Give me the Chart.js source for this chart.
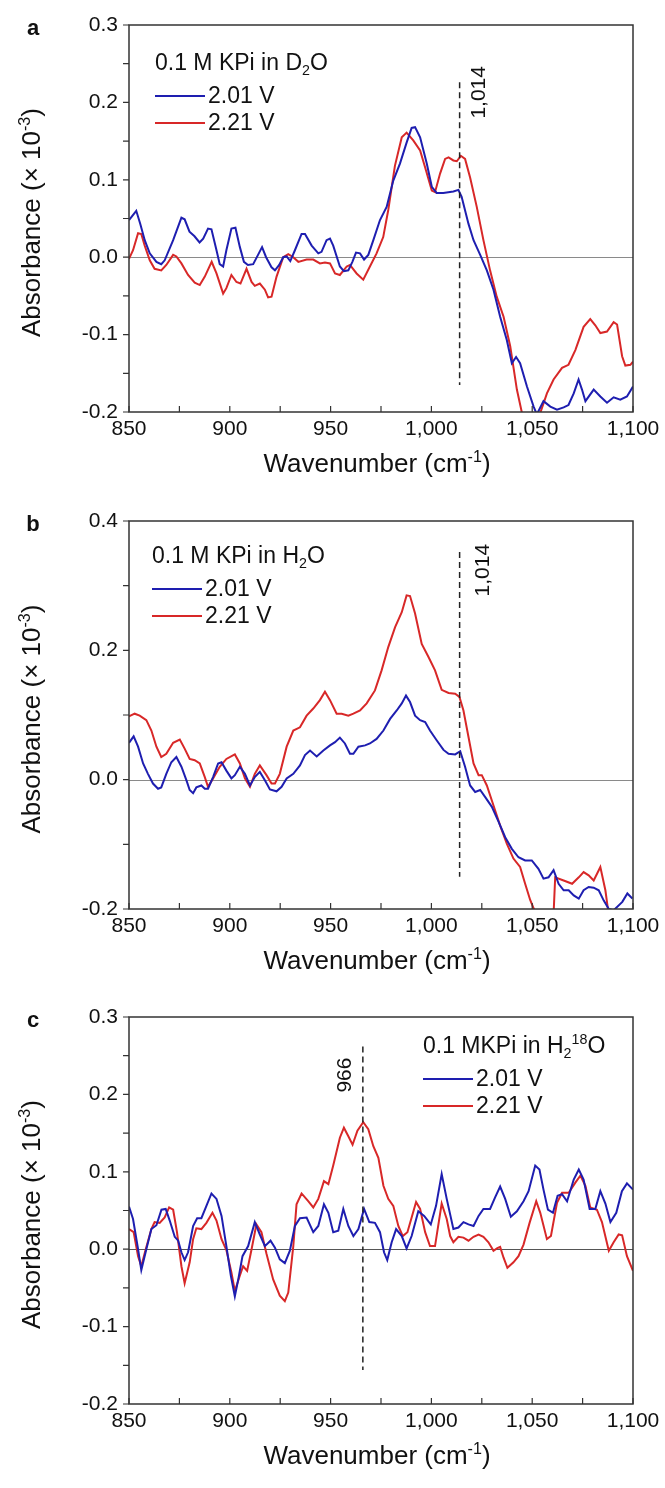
<!DOCTYPE html>
<html lang="en">
<head>
<meta charset="UTF-8">
<title>Absorbance spectra</title>
<script src="https://cdn.jsdelivr.net/npm/chart.js"></script>
<style>
    body { margin: 0; background: #fff; }
    .panel { position: absolute; left: 0; width: 665px; height: 496px; }
</style>
</head>
<body>
<div class="panel" style="top:0"><canvas id="chartA" width="665" height="496"></canvas></div>
<div class="panel" style="top:496px"><canvas id="chartB" width="665" height="496"></canvas></div>
<div class="panel" style="top:992px"><canvas id="chartC" width="665" height="496"></canvas></div>
<script>
// wavenumber (cm-1), absorbance (x 10^-3)
const aBlue = [[850,0.048],[853.6,0.060],[855.6,0.043],[857.8,0.022],[860.3,0.005],[863.6,-0.006],[866,-0.009],[867.7,-0.004],[871.9,0.022],[876,0.051],[877.6,0.049],[880,0.033],[882.5,0.027],[885,0.019],[886.8,0.024],[889.2,0.037],[890.9,0.036],[893.4,0.009],[895,-0.009],[896.7,-0.012],[898.3,0.009],[900.8,0.037],[902.8,0.038],[905,0.013],[907,-0.006],[909,-0.010],[911.6,-0.009],[914,0.003],[916,0.013],[918,0.000],[920.7,-0.013],[922.4,-0.017],[924.5,-0.010],[926.5,0.000],[928.2,0.001],[930,-0.005],[932.3,0.009],[935.6,0.030],[937.3,0.030],[940.6,0.015],[943.9,0.005],[945.5,0.007],[948,0.022],[949.7,0.024],[951.3,0.015],[954.6,-0.012],[956.6,-0.018],[958.8,-0.017],[960.8,-0.006],[962.6,0.006],[964.6,0.005],[966.6,-0.003],[968.7,0.003],[971.2,0.022],[974.5,0.048],[977.8,0.065],[981.1,0.099],[984.4,0.121],[987.7,0.148],[990.2,0.167],[991.9,0.168],[994.4,0.155],[997.7,0.121],[1000.2,0.091],[1002.6,0.083],[1005.9,0.083],[1010.9,0.085],[1013.4,0.087],[1015,0.078],[1018.4,0.043],[1020.9,0.022],[1024.2,0.003],[1027.5,-0.017],[1030.8,-0.042],[1034.1,-0.077],[1037.4,-0.107],[1039.9,-0.137],[1042,-0.129],[1044,-0.137],[1047.4,-0.167],[1050.7,-0.193],[1052.3,-0.203],[1055.6,-0.186],[1059,-0.193],[1062.3,-0.197],[1065.6,-0.194],[1068,-0.191],[1070.6,-0.176],[1073,-0.158],[1074.7,-0.171],[1076.4,-0.186],[1080.5,-0.171],[1083.8,-0.180],[1087.1,-0.188],[1090.4,-0.181],[1093.7,-0.184],[1097,-0.180],[1100,-0.167]];
const aRed = [[850,-0.002],[852,0.009],[854.5,0.031],[856.1,0.030],[857.8,0.015],[860.3,-0.004],[862.7,-0.015],[866,-0.017],[868.5,-0.010],[871.9,0.003],[873.5,0.001],[876,-0.008],[879.3,-0.023],[882.6,-0.033],[885.1,-0.036],[887.6,-0.025],[891,-0.006],[893.4,-0.021],[896.7,-0.047],[898.3,-0.040],[900.8,-0.023],[903.3,-0.032],[905.3,-0.034],[908.3,-0.015],[910.8,-0.032],[912.4,-0.037],[914.9,-0.034],[917.4,-0.042],[919,-0.052],[920.7,-0.051],[923.2,-0.025],[926.5,0.000],[929,0.004],[931.5,0.000],[934,-0.006],[938.1,-0.003],[941.4,-0.003],[944.7,-0.008],[947.2,-0.007],[949.7,-0.008],[952.2,-0.021],[954.6,-0.023],[958,-0.012],[959.6,-0.010],[962.9,-0.021],[966.2,-0.029],[969.5,-0.012],[972.8,0.005],[976.1,0.026],[978.6,0.061],[981.9,0.118],[985.3,0.155],[987.7,0.161],[991,0.151],[994.4,0.138],[996.9,0.116],[1000.2,0.086],[1001.8,0.084],[1004.3,0.108],[1006.8,0.127],[1008.5,0.129],[1010.9,0.125],[1012.6,0.124],[1014.6,0.131],[1016.7,0.127],[1019.2,0.103],[1022.5,0.065],[1025.8,0.022],[1029.1,-0.017],[1032.4,-0.051],[1035.8,-0.077],[1039.1,-0.115],[1042.4,-0.171],[1044.9,-0.201],[1047.5,-0.220],[1050.5,-0.228],[1052.5,-0.215],[1054.3,-0.199],[1057.3,-0.176],[1060.6,-0.158],[1064.8,-0.143],[1068,-0.139],[1071.4,-0.120],[1075.5,-0.090],[1078.8,-0.080],[1081.3,-0.088],[1083.8,-0.098],[1087.1,-0.096],[1090.4,-0.084],[1092.1,-0.087],[1094.6,-0.128],[1096.2,-0.140],[1098.7,-0.139],[1100,-0.135]];

const bBlue = [[850,0.057],[852.3,0.067],[854.5,0.051],[857,0.025],[859.4,0.009],[861.9,-0.006],[864.4,-0.014],[866,-0.012],[868.5,0.009],[871,0.027],[873.5,0.035],[876,0.020],[878.5,-0.001],[880.1,-0.016],[881.8,-0.021],[883.4,-0.012],[885.9,-0.009],[887.6,-0.014],[889.2,-0.014],[891.7,0.004],[894.2,0.025],[895.9,0.027],[898.3,0.014],[900.8,0.002],[902.5,0.007],[905,0.020],[907.5,0.009],[910,-0.009],[912.4,0.004],[914.9,0.012],[917.4,-0.001],[919.9,-0.015],[923.2,-0.018],[925.7,-0.011],[928.2,0.002],[931.5,0.009],[934.8,0.022],[937.3,0.038],[939.8,0.045],[943.1,0.036],[946.4,0.045],[949.7,0.053],[952.2,0.058],[954.6,0.065],[957.1,0.056],[959.6,0.040],[961.3,0.040],[963.8,0.051],[967.1,0.053],[969.5,0.056],[972.8,0.063],[976.2,0.076],[979.5,0.094],[982.8,0.107],[985.3,0.118],[987.4,0.130],[989.4,0.120],[991.9,0.099],[994.4,0.092],[996.9,0.089],[999.3,0.076],[1002.6,0.061],[1006,0.046],[1008.5,0.040],[1011.8,0.039],[1014.3,0.044],[1016.7,0.020],[1019.2,-0.009],[1021.7,-0.019],[1024.2,-0.016],[1026.7,-0.027],[1030,-0.042],[1033.3,-0.065],[1036.6,-0.089],[1039.9,-0.107],[1043.2,-0.120],[1046.5,-0.125],[1049.8,-0.125],[1053.1,-0.138],[1055.6,-0.153],[1058.1,-0.151],[1060.6,-0.140],[1063.1,-0.161],[1065.6,-0.171],[1068.1,-0.171],[1070.6,-0.179],[1073.1,-0.184],[1075.5,-0.171],[1078,-0.166],[1080.5,-0.167],[1083,-0.171],[1085.5,-0.187],[1088,-0.200],[1090.4,-0.202],[1094.7,-0.189],[1097.2,-0.176],[1099.7,-0.184]];
const bRed = [[850,0.098],[852.8,0.102],[855.3,0.099],[858.6,0.092],[861.1,0.076],[863.6,0.051],[866,0.035],[868.5,0.040],[871.9,0.057],[875.2,0.062],[877.6,0.048],[880.1,0.032],[882.6,0.030],[885.1,0.025],[887.6,0.004],[889.2,-0.011],[891.7,0.002],[895,0.020],[898.3,0.032],[902.5,0.039],[905,0.025],[907.5,0.002],[910,-0.011],[912.4,0.009],[914.9,0.022],[918.2,0.007],[920.7,-0.006],[922.4,-0.006],[924.8,0.009],[928.2,0.051],[931.5,0.076],[934.8,0.081],[938.1,0.099],[941.4,0.110],[944.7,0.123],[947.2,0.136],[949.7,0.123],[953,0.102],[955.5,0.102],[958.8,0.099],[961.3,0.102],[964.6,0.107],[967.9,0.118],[972,0.138],[975.3,0.169],[978.6,0.205],[982,0.236],[985.3,0.259],[987.7,0.285],[989.4,0.284],[991.9,0.257],[995.2,0.210],[998.5,0.190],[1001.8,0.169],[1005.1,0.139],[1008.5,0.134],[1011.8,0.133],[1013.9,0.128],[1015.9,0.107],[1018.4,0.066],[1020.9,0.025],[1023.4,0.007],[1025,0.007],[1027.5,-0.009],[1030.8,-0.040],[1034.1,-0.071],[1037.4,-0.099],[1040.7,-0.122],[1044,-0.135],[1046.5,-0.161],[1049,-0.186],[1051.5,-0.205],[1054,-0.215],[1060.5,-0.215],[1061.4,-0.151],[1065.6,-0.156],[1069.8,-0.161],[1073.1,-0.151],[1075.5,-0.143],[1078,-0.148],[1080.5,-0.156],[1083.8,-0.135],[1086.3,-0.171],[1088,-0.210],[1091,-0.230],[1095,-0.240],[1100,-0.240]];

const cBlue = [[850,0.055],[852,0.039],[854.5,0.000],[856.1,-0.027],[858.6,0.000],[861.1,0.026],[863.6,0.031],[866.1,0.051],[868.2,0.052],[870.2,0.037],[872.7,0.016],[874.4,0.011],[876,-0.004],[877.6,-0.014],[879.3,-0.004],[881.8,0.030],[883.8,0.040],[885.9,0.040],[888.4,0.056],[890.9,0.072],[893.4,0.065],[895.9,0.043],[898.3,0.004],[900.5,-0.034],[902.5,-0.061],[904.2,-0.039],[906.3,-0.009],[909.1,0.004],[912.4,0.035],[914.9,0.019],[917.4,0.004],[920.2,0.011],[922.4,0.002],[924.8,-0.013],[927.3,-0.018],[929.8,-0.002],[932.3,0.030],[934.8,0.040],[938.1,0.041],[941.4,0.022],[943.9,0.030],[946.7,0.058],[948.9,0.047],[951.3,0.022],[953.8,0.024],[956.3,0.052],[958.8,0.030],[961.3,0.017],[963.8,0.026],[966.6,0.052],[969.2,0.035],[972,0.034],[974.5,0.022],[976.5,-0.004],[978.1,-0.014],[980.3,0.009],[982.5,0.026],[985.3,0.017],[987.7,0.001],[990.2,0.017],[993.5,0.049],[996.4,0.043],[999.7,0.032],[1002.3,0.056],[1005.1,0.097],[1007.6,0.065],[1010.9,0.026],[1013.4,0.028],[1015.9,0.035],[1018.4,0.032],[1020.9,0.030],[1023.4,0.043],[1025.8,0.052],[1029.1,0.052],[1031.6,0.067],[1034.1,0.081],[1036.6,0.065],[1039.4,0.042],[1042.4,0.049],[1045.7,0.062],[1048.2,0.075],[1051.5,0.108],[1053.6,0.103],[1055.6,0.077],[1057.8,0.051],[1060.3,0.047],[1062.6,0.069],[1064.8,0.071],[1067.3,0.062],[1070.6,0.090],[1073.1,0.103],[1075.5,0.090],[1078.5,0.052],[1081.3,0.052],[1083.8,0.075],[1086.3,0.059],[1088.8,0.035],[1091.7,0.047],[1094.5,0.075],[1097,0.085],[1100,0.077]];
const cRed = [[850,0.026],[852.3,0.022],[854.5,-0.009],[856.1,-0.022],[858.3,0.000],[861.1,0.026],[862.7,0.035],[865.2,0.034],[867.7,0.041],[869.9,0.054],[871.9,0.051],[873.8,0.022],[876,-0.022],[877.6,-0.044],[880.1,-0.017],[881.8,0.013],[883.4,0.027],[885.9,0.026],[888.4,0.034],[891.4,0.047],[893.4,0.037],[895.9,0.013],[898.3,-0.001],[900.8,-0.030],[902.5,-0.054],[905,-0.034],[906.6,-0.022],[908.6,-0.028],[910.8,0.000],[913.2,0.032],[915.7,0.022],[918.2,-0.006],[921.5,-0.039],[924.8,-0.060],[927.3,-0.067],[929,-0.056],[931.5,0.004],[933.1,0.058],[935.6,0.072],[938.9,0.062],[941.4,0.054],[943.9,0.065],[946.7,0.088],[948.9,0.084],[951.3,0.108],[954.6,0.144],[956.6,0.157],[958.8,0.146],[960.9,0.135],[963.3,0.153],[966.2,0.164],[968.7,0.155],[971.2,0.133],[973.7,0.118],[976.2,0.082],[978.6,0.065],[981.1,0.056],[983.6,0.030],[985.8,0.017],[988.1,0.022],[990.2,0.041],[992.4,0.061],[994.4,0.052],[996.9,0.022],[999.3,0.004],[1001.8,0.004],[1005.1,0.059],[1007.6,0.039],[1009.3,0.017],[1010.9,0.009],[1013.4,0.016],[1015.9,0.015],[1018.4,0.011],[1020.9,0.016],[1023.4,0.019],[1025.8,0.016],[1028.3,0.009],[1030.8,-0.002],[1032.5,0.001],[1034.1,0.003],[1035.8,-0.011],[1037.7,-0.024],[1040.7,-0.017],[1043.2,-0.009],[1045.7,0.006],[1048.7,0.034],[1052,0.062],[1054,0.047],[1057.3,0.013],[1059.3,0.017],[1062.3,0.060],[1064.8,0.073],[1068.1,0.073],[1071.4,0.086],[1073.9,0.095],[1076.4,0.082],[1078.8,0.054],[1082.1,0.051],[1084.6,0.035],[1088,-0.002],[1090.4,0.009],[1092.9,0.019],[1094.6,0.018],[1097,-0.009],[1100,-0.028]];

// tick values and labels
const xTickVals = [850, 900, 950, 1000, 1050, 1100];
const xTickLabels = ['850', '900', '950', '1,000', '1,050', '1,100'];
const yTickValsAC = [-0.2, -0.1, 0, 0.1, 0.2, 0.3];
const yTickLabelsAC = ['-0.2', '-0.1', '0.0', '0.1', '0.2', '0.3'];
const yTickValsB = [-0.2, 0, 0.2, 0.4];
const yTickLabelsB = ['-0.2', '0.0', '0.2', '0.4'];

// dashed markers: [wavenumber, lower end, upper end, label y]
const aMarker = [1014, -0.165, 0.226, 0.213];
const bMarker = [1014, -0.150, 0.352, 0.324];
const cMarker = [966, -0.156, 0.262, 0.225];

const seriesNames = ['2.01 V', '2.21 V'];
const BLUE = '#1e1eb0';
const RED = '#d82828';
const FONT = '"Liberation Sans", Arial, Helvetica, sans-serif';

// draw text parts: '^x' superscript, '_x' subscript
function drawRich(ctx, parts, x, y, size, align) {
    const small = size * 0.62;
    let total = 0;
    const segs = parts.map(p => {
        let kind = '';
        let t = p;
        if (p[0] === '^' || p[0] === '_') { kind = p[0]; t = p.slice(1); }
        const fs = kind ? small : size;
        ctx.font = fs + 'px ' + FONT;
        const w = ctx.measureText(t).width;
        total += w;
        return { t, kind, fs, w };
    });
    let cx = align === 'center' ? x - total / 2 : x;
    ctx.textAlign = 'left';
    ctx.textBaseline = 'alphabetic';
    segs.forEach(s => {
        ctx.font = s.fs + 'px ' + FONT;
        const dy = s.kind === '^' ? -size * 0.40 : (s.kind === '_' ? size * 0.22 : 0);
        ctx.fillText(s.t, cx, y + dy);
        cx += s.w;
    });
}

const decorPlugin = {
    id: 'decor',
    beforeDatasetsDraw(chart) {
        const { ctx, chartArea: ca, scales } = chart;
        const p = chart.options.plugins.decor;
        const y0 = scales.y.getPixelForValue(0);
        ctx.save();
        ctx.strokeStyle = p.zeroColor;
        ctx.lineWidth = 1;
        ctx.beginPath();
        ctx.moveTo(ca.left, Math.round(y0) + 0.5);
        ctx.lineTo(ca.right, Math.round(y0) + 0.5);
        ctx.stroke();
        ctx.restore();
    },
    afterDatasetsDraw(chart) {
        const { ctx, chartArea: ca, scales } = chart;
        const p = chart.options.plugins.decor;
        const xs = scales.x, ys = scales.y;
        ctx.save();

        // dashed marker line
        const mx = xs.getPixelForValue(p.marker[0]);
        ctx.strokeStyle = '#222';
        ctx.lineWidth = 1.5;
        ctx.setLineDash([6, 4]);
        ctx.beginPath();
        ctx.moveTo(mx, ys.getPixelForValue(p.marker[2]));
        ctx.lineTo(mx, ys.getPixelForValue(p.marker[1]));
        ctx.stroke();
        ctx.setLineDash([]);

        // marker label, rotated
        ctx.fillStyle = '#111';
        ctx.save();
        ctx.translate(mx + p.markerDx, ys.getPixelForValue(p.marker[3]));
        ctx.rotate(-Math.PI / 2);
        ctx.font = '21px ' + FONT;
        ctx.textAlign = 'center';
        ctx.textBaseline = 'middle';
        ctx.fillText(p.markerText, 0, 0);
        ctx.restore();

        // frame
        ctx.strokeStyle = '#333';
        ctx.lineWidth = 1.5;
        ctx.strokeRect(ca.left, ca.top, ca.right - ca.left, ca.bottom - ca.top);

        // x ticks inward
        ctx.lineWidth = 1.2;
        ctx.beginPath();
        xs.ticks.forEach(t => {
            const px = xs.getPixelForValue(t.value);
            ctx.moveTo(px, ca.bottom);
            ctx.lineTo(px, ca.bottom - 6);
        });
        // y ticks outward
        ys.ticks.forEach(t => {
            const py = ys.getPixelForValue(t.value);
            ctx.moveTo(ca.left, py);
            ctx.lineTo(ca.left - 6, py);
        });
        ctx.stroke();

        // legend
        const lx = ca.left + p.legendAt[0];
        const ty = ca.top + p.legendAt[1];
        ctx.fillStyle = '#111';
        drawRich(ctx, p.legendTitle, lx, ty + 8, 23, 'left');
        [BLUE, RED].forEach((col, i) => {
            const ly = ty + 34 + i * 27;
            ctx.strokeStyle = col;
            ctx.lineWidth = 2;
            ctx.beginPath();
            ctx.moveTo(lx, ly);
            ctx.lineTo(lx + 50, ly);
            ctx.stroke();
            ctx.font = '23px ' + FONT;
            ctx.textAlign = 'left';
            ctx.textBaseline = 'middle';
            ctx.fillText(seriesNames[i], lx + 53, ly + 1);
        });

        // panel letter
        ctx.font = 'bold 22px ' + FONT;
        ctx.textAlign = 'center';
        ctx.textBaseline = 'alphabetic';
        ctx.fillText(p.letter, 33, ca.top + 10);

        // axis titles
        ctx.save();
        ctx.translate(31, (ca.top + ca.bottom) / 2 + 4);
        ctx.rotate(-Math.PI / 2);
        drawRich(ctx, ['Absorbance (\u00d7 10', '^-3', ')'], 0, 9, 26, 'center');
        ctx.restore();
        drawRich(ctx, ['Wavenumber (cm', '^-1', ')'], 377, ca.bottom + 60, 26, 'center');

        ctx.restore();
    }
};

function toPts(arr) {
    return arr.map(d => ({ x: d[0], y: d[1] }));
}

function makePanel(id, blue, red, yMin, yMax, yStep, yVals, yLabels, bottom, decor) {
    const canvasH = 496;
    return new Chart(document.getElementById(id), {
        type: 'line',
        data: {
            datasets: [
                { label: seriesNames[0], data: toPts(blue), borderColor: BLUE, borderWidth: 2, pointRadius: 0, fill: false },
                { label: seriesNames[1], data: toPts(red), borderColor: RED, borderWidth: 2, pointRadius: 0, fill: false }
            ]
        },
        options: {
            responsive: false,
            animation: false,
            events: [],
            layout: { padding: { top: 25, right: 32, bottom: 0, left: 0 } },
            plugins: {
                legend: { display: false },
                tooltip: { enabled: false },
                decor: decor
            },
            scales: {
                x: {
                    type: 'linear',
                    min: 850,
                    max: 1100,
                    afterFit: s => { s.height = canvasH - bottom; },
                    grid: { display: false, drawTicks: false },
                    border: { display: false },
                    ticks: {
                        stepSize: 25,
                        autoSkip: false,
                        maxRotation: 0,
                        padding: 5,
                        color: '#111',
                        font: { family: FONT, size: 21 },
                        callback: v => {
                            const i = xTickVals.findIndex(t => Math.abs(t - v) < 1e-6);
                            return i >= 0 ? xTickLabels[i] : '';
                        }
                    }
                },
                y: {
                    min: yMin,
                    max: yMax,
                    afterFit: s => { s.width = 129; },
                    grid: { display: false, drawTicks: false },
                    border: { display: false },
                    ticks: {
                        stepSize: yStep,
                        autoSkip: false,
                        padding: 11,
                        color: '#111',
                        font: { family: FONT, size: 21 },
                        callback: v => {
                            const i = yVals.findIndex(t => Math.abs(t - v) < 1e-6);
                            return i >= 0 ? yLabels[i] : '';
                        }
                    }
                }
            }
        },
        plugins: [decorPlugin]
    });
}

makePanel('chartA', aBlue, aRed, -0.2, 0.3, 0.05, yTickValsAC, yTickLabelsAC, 412, {
    letter: 'a', marker: aMarker, markerText: '1,014', markerDx: 20, zeroColor: '#8a8a8a',
    legendTitle: ['0.1 M KPi in D', '_2', 'O'], legendAt: [26, 37]
});
makePanel('chartB', bBlue, bRed, -0.2, 0.4, 0.1, yTickValsB, yTickLabelsB, 413, {
    letter: 'b', marker: bMarker, markerText: '1,014', markerDx: 24, zeroColor: '#8a8a8a',
    legendTitle: ['0.1 M KPi in H', '_2', 'O'], legendAt: [23, 34]
});
makePanel('chartC', cBlue, cRed, -0.2, 0.3, 0.05, yTickValsAC, yTickLabelsAC, 412, {
    letter: 'c', marker: cMarker, markerText: '966', markerDx: -18, zeroColor: '#555',
    legendTitle: ['0.1 MKPi in H', '_2', '^18', 'O'], legendAt: [294, 28]
});
</script>
</body>
</html>
